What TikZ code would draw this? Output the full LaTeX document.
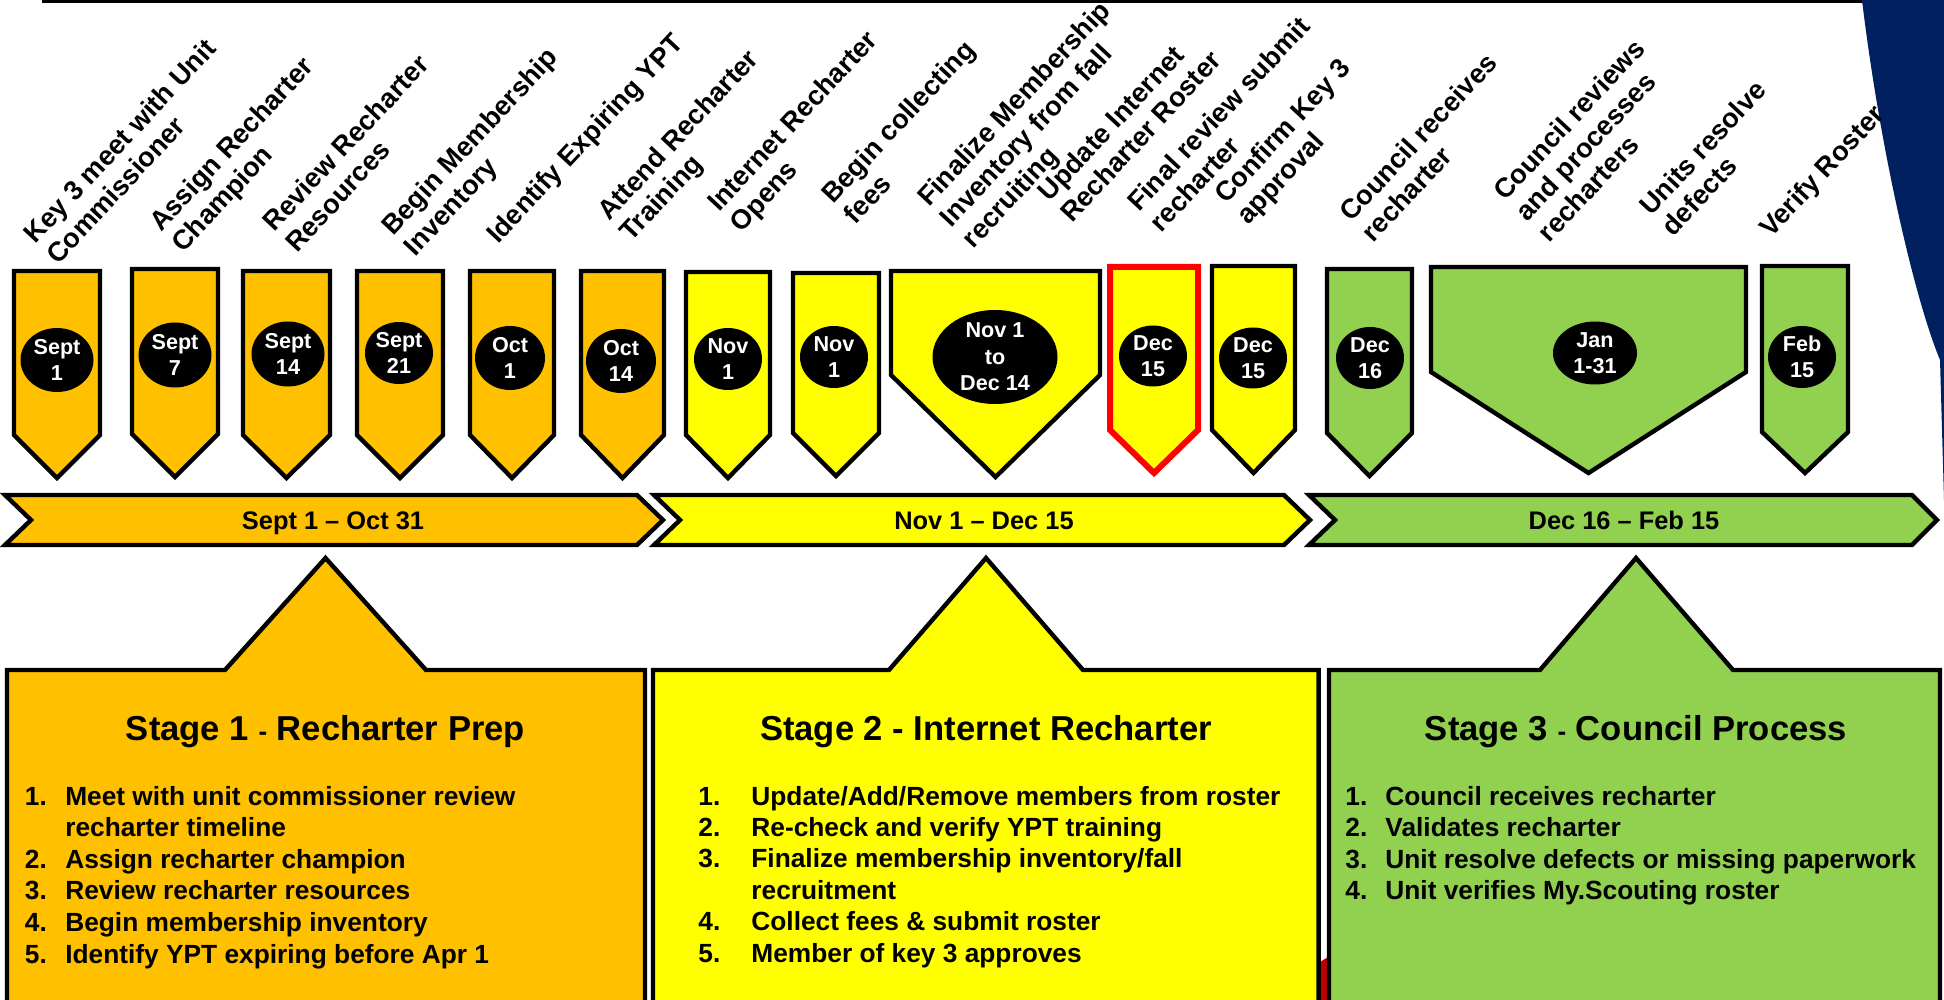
\documentclass[tikz,border=0pt]{standalone}
\usepackage{fontspec}
\setmainfont{Liberation Sans}
\usetikzlibrary{shapes.geometric}

\definecolor{prepgold}{RGB}{255,192,0}
\definecolor{netyellow}{RGB}{255,255,0}
\definecolor{cnclgreen}{RGB}{146,208,80}
\definecolor{navyband}{RGB}{0,32,96}
\definecolor{darkred}{RGB}{192,0,0}

\tikzset{
  outline/.style={draw=black, line width=2.2pt, line join=miter},
  dateoval/.style={ellipse, fill=black, inner sep=0pt},
  datetext/.style={text=white, inner sep=0pt, align=center, font=\fontsize{10.8}{13.2}\selectfont\bfseries},
  steptext/.style={rotate=47, anchor=base west, inner sep=0pt, font=\fontsize{13.6}{15}\selectfont\bfseries},
  bartext/.style={anchor=base, inner sep=0pt, font=\fontsize{12.7}{15}\selectfont\bfseries},
  stagehead/.style={anchor=base, inner sep=0pt, font=\fontsize{17.3}{20}\selectfont\bfseries},
  stageitem/.style={anchor=base west, inner sep=0pt, font=\fontsize{13.15}{15.8}\selectfont\bfseries}
}

\begin{document}
\begin{tikzpicture}[x=0.5pt, y=-0.5pt]
    \clip (0,0) rectangle (1944,1000);
    \fill[white] (0,0) rectangle (1944,1000);

    % top rule and corner band
    \draw[line width=1.4pt] (42,1.4) -- (1870,1.4);
    \fill[navyband] (1862,0) .. controls (1880,150) and (1915,300) .. (1940,360) -- (1944,500) -- (1944,0) -- cycle;

    % step labels, one node per line
    \foreach \x/\y/\lines [count=\i] in {
        35.7/245/{Key 3 meet with Unit,Commissioner},
        161/233/{Assign Recharter,Champion},
        274.5/233/{Review Recharter,Resources},
        393/237/{Begin Membership,Inventory},
        498/245/{Identify Expiring YPT},
        609/222/{Attend Recharter,Training},
        719/213/{Internet Recharter,Opens},
        833/205/{Begin collecting,fees},
        929/208/{Finalize Membership,Inventory from fall,recruiting},
        1049.6/203/{Update Internet,Recharter Roster},
        1139/213/{Final review submit,recharter},
        1226/205/{Confirm Key 3,approval},
        1351/223/{Council receives,recharter},
        1505/202/{Council reviews,and processes,recharters},
        1651/217/{Units resolve,defects},
        1771/239/{Verify Roster}}
      \foreach \ln [count=\k from 0] in \lines
        \node[steptext] (lab\i-\k) at (\x+\k*22.3, \y+\k*20.8) {\ln};

    % pennants
    \draw[outline, fill=prepgold] (14,271) -- (100,271) -- (100,435) -- (57,478) -- (14,435) -- cycle;
    \draw[outline, fill=prepgold] (132,269) -- (218,269) -- (218,434) -- (175,477) -- (132,434) -- cycle;
    \draw[outline, fill=prepgold] (243,271) -- (330,271) -- (330,435) -- (286.5,478) -- (243,435) -- cycle;
    \draw[outline, fill=prepgold] (357,271) -- (443,271) -- (443,435) -- (400,478) -- (357,435) -- cycle;
    \draw[outline, fill=prepgold] (470,271) -- (554,271) -- (554,435) -- (512,478) -- (470,435) -- cycle;
    \draw[outline, fill=prepgold] (581,271) -- (664,271) -- (664,435) -- (622.5,478) -- (581,435) -- cycle;
    \draw[outline, fill=netyellow] (686,272) -- (770,272) -- (770,435) -- (728,478) -- (686,435) -- cycle;
    \draw[outline, fill=netyellow] (793,273) -- (879,273) -- (879,433) -- (836,476) -- (793,433) -- cycle;
    \draw[outline, fill=netyellow] (891,271) -- (1100,271) -- (1100,375) -- (995.5,477) -- (891,375) -- cycle;
    \draw[outline, draw=red, line width=3pt, fill=netyellow] (1110,267) -- (1198,267) -- (1198,430) -- (1154,473) -- (1110,430) -- cycle;
    \draw[outline, fill=netyellow] (1212,266) -- (1295,266) -- (1295,430) -- (1253.5,473) -- (1212,430) -- cycle;
    \draw[outline, fill=cnclgreen] (1327,269) -- (1412,269) -- (1412,433) -- (1369.5,476) -- (1327,433) -- cycle;
    \draw[outline, fill=cnclgreen] (1431,267) -- (1746,267) -- (1746,372) -- (1588.5,473) -- (1431,372) -- cycle;
    \draw[outline, fill=cnclgreen] (1762,266) -- (1848,266) -- (1848,432) -- (1805,473) -- (1762,432) -- cycle;

    % date ovals
    \foreach \x/\y/\w/\h/\txt [count=\i] in {
        57/360/36.5/32/{Sept\\1}, 175/355/36.5/32.5/{Sept\\7},
        288/354/36.5/32.5/{Sept\\14}, 399/353/34/31/{Sept\\21},
        510/358/35/32/{Oct\\1}, 621/361/35/32/{Oct\\14},
        728/359/34/31/{Nov\\1}, 834/357/34/31/{Nov\\1},
        995/357/62.5/47/{Nov 1\\to\\Dec 14}, 1153/356/34/30.5/{Dec\\15},
        1253/358/34/30.5/{Dec\\15}, 1370/358/34/31/{Dec\\16},
        1595/353/42/31.5/{Jan\\1-31}, 1802/357/34/31/{Feb\\15}} {
      \node[dateoval, minimum width=\w pt, minimum height=\h pt] (d\i) at (\x,\y) {};
      \node[datetext] (dt\i) at (d\i) {\txt};
    }

    % period bars
    \draw[outline, fill=prepgold] (5,495) -- (637,495) -- (663,520) -- (637,545) -- (5,545) -- (31,520) -- cycle;
    \draw[outline, fill=netyellow] (654,495) -- (1284,495) -- (1310,520) -- (1284,545) -- (654,545) -- (680,520) -- cycle;
    \draw[outline, fill=cnclgreen] (1309,495) -- (1912,495) -- (1937,520) -- (1912,545) -- (1309,545) -- (1335,520) -- cycle;
    \node[bartext] (p1) at (333,529) {Sept 1 – Oct 31};
    \node[bartext] (p2) at (984,529) {Nov 1 – Dec 15};
    \node[bartext] (p3) at (1624,529) {Dec 16 – Feb 15};

    % stage boxes
    \fill[darkred] (1320,962) -- (1328,957) -- (1328,1000) -- (1320,1000) -- cycle;
    \draw[outline, fill=prepgold] (7,1010) -- (7,670) -- (225,670) -- (325.5,558) -- (426,670) -- (645,670) -- (645,1010);
    \draw[outline, fill=netyellow] (653,1010) -- (653,670) -- (889,670) -- (986,558) -- (1083,670) -- (1318.6,670) -- (1318.6,1010);
    \draw[outline, fill=cnclgreen] (1329,1010) -- (1329,670) -- (1540,670) -- (1636,558) -- (1733,670) -- (1940,670) -- (1940,1010);

    \node[stagehead] (h1) at (325.5,740) {Stage 1 {\fontsize{13}{15}\selectfont -} Recharter Prep};
    \node[stagehead] (h2) at (986,740) {Stage 2 - Internet Recharter};
    \node[stagehead] (h3) at (1636,740) {Stage 3 {\fontsize{13}{15}\selectfont -} Council Process};

    \foreach \n/\t [count=\k from 0] in {
        1./Meet with unit commissioner review, /recharter timeline,
        2./Assign recharter champion, 3./Review recharter resources,
        4./Begin membership inventory, 5./Identify YPT expiring before Apr 1}
      \node[stageitem] (one\k) at (24.5, 805+\k*31.6) {\makebox[20.2pt][l]{\n}\t};

    \foreach \n/\t [count=\k from 0] in {
        1./{Update/Add/Remove members from roster}, 2./Re-check and verify YPT training,
        3./{Finalize membership inventory/fall}, /recruitment,
        4./Collect fees \& submit roster, 5./Member of key 3 approves}
      \node[stageitem] (two\k) at (698, 805+\k*31.4) {\makebox[26.5pt][l]{\n}\t};

    \foreach \n/\t [count=\k from 0] in {
        1./Council receives recharter, 2./Validates recharter,
        3./Unit resolve defects or missing paperwork, 4./Unit verifies My.Scouting roster}
      \node[stageitem] (three\k) at (1345, 805+\k*31.6) {\makebox[20pt][l]{\n}\t};
\end{tikzpicture}
\end{document}
